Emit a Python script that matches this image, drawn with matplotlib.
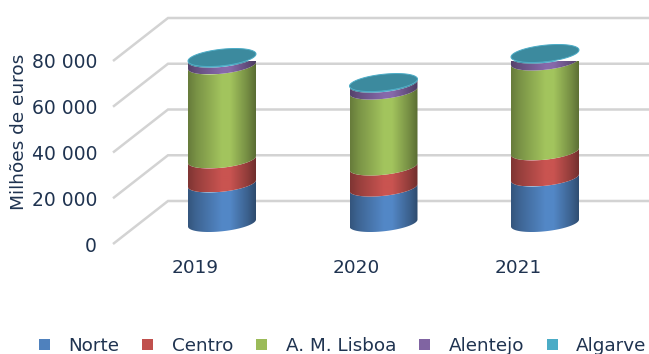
import numpy as np
import matplotlib
matplotlib.use("Agg")
import matplotlib.pyplot as plt
from matplotlib.patches import Patch, Polygon
from matplotlib.colors import to_rgb

years = ["2019", "2020", "2021"]
regions = ["Norte", "Centro", "A. M. Lisboa", "Alentejo", "Algarve"]
norte = [17300, 15500, 19900]
centro = [10500, 9200, 11400]
lisboa = [41100, 33200, 39300]
alentejo = [2950, 3000, 3000]
algarve = [500, 500, 500]
series = [norte, centro, lisboa, alentejo, algarve]
colors = ["#4f81bd", "#c0504d", "#9bbb59", "#8064a2", "#4bacc6"]
yticks = [0, 20000, 40000, 60000, 80000]

W, H = 649, 354
TEXT = "#1f3350"
GRID = "#d3d3d3"

fig = plt.figure(figsize=(W / 100, H / 100), dpi=100)
plt.rcParams["font.family"] = "DejaVu Sans"

# Axes box: the front edge of the floor and the 80 000 level of the front plane
left, right, y0_px, y80_px = 113, 649, 244, 61
ax = fig.add_axes([left / W, 1 - y0_px / H, (right - left) / W, (y0_px - y80_px) / H])
cat_px = 161.5
first_px = 195
ax.set_xlim((left - first_px) / cat_px, (right - first_px) / cat_px)
ax.set_ylim(0, 80000)
val_per_px = 80000 / (y0_px - y80_px)

# Oblique depth of the walls and of the column centres, in data units
wall_dx, wall_dy = 55 / cat_px, 43 * val_per_px
col_dx, col_dy = 27 / cat_px, 21.0 * val_per_px

# Column cross-section: a sheared ellipse, rising to the right
semi_a = 34 / cat_px
semi_b = 8.3 * val_per_px
shear = 3.5 * val_per_px


def ellipse(cx, cy, t):
    return cx + semi_a * np.cos(t), cy + semi_b * np.sin(t) + shear * np.cos(t)


# Floor and wall gridlines
x_start = ax.get_xlim()[0]
x_end = ax.get_xlim()[1]
for v in yticks:
    ax.plot([x_start, x_start + wall_dx, x_end], [v, v + wall_dy, v + wall_dy],
            color=GRID, lw=1.8, clip_on=False, zorder=1, solid_capstyle="butt",
            solid_joinstyle="miter")

# Horizontal shading across a column's round side
shade_pos = np.array([0.0, 0.12, 0.5, 0.62, 0.88, 1.0])
shade_val = np.array([0.66, 0.78, 1.05, 1.05, 0.75, 0.58])
u = np.linspace(0, 1, 136)
shade = np.interp(u, shade_pos, shade_val)

t_front = np.linspace(np.pi, 0, 80)
t_full = np.linspace(0, 2 * np.pi, 160)
z = 3
for i in range(len(years)):
    cx = i + col_dx
    base = 0
    for values, color in zip(series, colors):
        v = values[i]
        xa, ya = ellipse(cx, base + col_dy, -t_front)
        xb, yb = ellipse(cx, base + v + col_dy, -t_front)
        outline = np.column_stack([np.r_[xa, xb[::-1]], np.r_[ya, yb[::-1]]])
        rgb = np.array(to_rgb(color))
        strip = np.clip(shade[None, :, None] * rgb[None, None, :], 0, 1)
        img = ax.imshow(strip, aspect="auto", zorder=z, interpolation="bilinear",
                        extent=[cx - semi_a, cx + semi_a, outline[:, 1].min(), outline[:, 1].max()])
        clip = Polygon(outline, closed=True, transform=ax.transData)
        img.set_clip_path(clip)
        z += 1
        base += v
    # Top cap of the stack
    xt, yt = ellipse(cx, base + col_dy, t_full)
    cap = tuple(c * 0.8 for c in to_rgb(colors[-1]))
    ax.add_patch(Polygon(np.column_stack([xt, yt]), closed=True, facecolor=cap,
                         edgecolor=colors[-1], lw=0.7, zorder=z, clip_on=False))
    z += 1

ax.set_xlim(x_start, x_end)
ax.set_ylim(0, 80000)

for s in ax.spines.values():
    s.set_visible(False)
ax.patch.set_visible(False)
ax.set_xticks(range(len(years)), years)
ax.set_yticks(yticks, [f"{v:,}".replace(",", " ") for v in yticks])
ax.tick_params(axis="x", length=0, pad=10.5, labelsize=13.3, labelcolor=TEXT)
ax.tick_params(axis="y", length=0, pad=11.5, labelsize=13.5, labelcolor=TEXT)

fig.text(19.5 / W, 1 - 132 / H, "Milhões de euros", rotation=90, ha="center", va="center",
         fontsize=13.3, color=TEXT)

handles = [Patch(facecolor=c, edgecolor="none", label=r) for c, r in zip(colors, regions)]
fig.legend(handles=handles, ncol=5, frameon=False, loc="center left",
           bbox_to_anchor=(39 / W, 1 - 346 / H), borderaxespad=0, borderpad=0,
           fontsize=13.2, labelcolor=TEXT, handlelength=0.6, handleheight=0.6,
           handletextpad=1.0, columnspacing=1.26)

fig.savefig("out.png", dpi=100, facecolor="white")
